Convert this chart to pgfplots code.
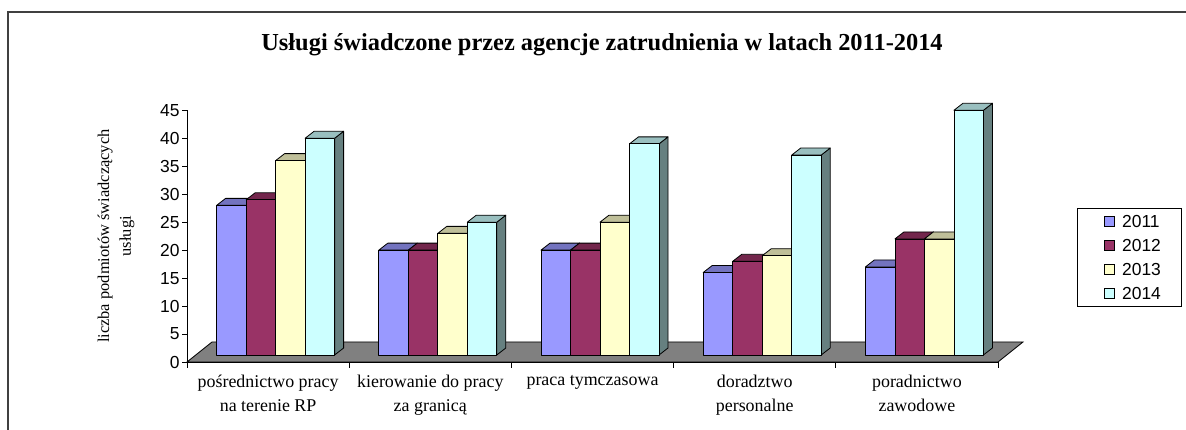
\documentclass[border=0pt]{standalone}
\usepackage{pgfplots}
\usepackage{pgfplotstable}
\pgfplotsset{compat=1.18}
\usepackage{fontspec}
\setmainfont{Liberation Serif}
\newfontfamily\arialw{Liberation Sans}
\definecolor{c2011}{HTML}{9999FF}
\definecolor{c2012}{HTML}{993366}
\definecolor{c2013}{HTML}{FFFFCC}
\definecolor{c2014}{HTML}{CCFFFF}
\definecolor{floorc}{HTML}{808080}

\pgfplotstableread{
x a b c d
0 28 29 36 40
1 20 20 23 25
2 20 20 25 39
3 16 18 19 37
4 17 22 22 45
}\data

\newcommand\tdbar[2]{%
 \pgfkeys{/pgf/fpu=true,/pgf/fpu/output format=fixed}%
 \pgfmathsetmacro\hb{-(\yv*5.5933-7)}%
 \pgfkeys{/pgf/fpu=false}%
 \pgfmathsetmacro\xl{#1-14.75}%
 \pgfmathsetmacro\xr{#1+14.75}%
 \pgfmathsetmacro\xrb{\xr+9}%
 \pgfmathsetmacro\xlb{\xl+9}%
 \pgfmathsetmacro\hbb{\hb+7}%
 \filldraw[fill=#2!50!black, draw=black, line width=0.8bp, line join=round] (\xr bp,0bp) -- (\xrb bp,7bp) -- (\xrb bp,\hbb bp) -- (\xr bp,\hb bp) -- cycle;
 \filldraw[fill=#2!75!black, draw=black, line width=0.8bp, line join=round] (\xl bp,0bp) -- (\xlb bp,7bp) -- (\xrb bp,7bp) -- (\xr bp,0bp) -- cycle;
 \filldraw[fill=#2, draw=black, line width=0.8bp, line join=round] (\xl bp,\hb bp) rectangle (\xr bp,0bp);
}
\pgfdeclareplotmark{bA}{\tdbar{-36.75}{c2011}}
\pgfdeclareplotmark{bB}{\tdbar{-7.25}{c2012}}
\pgfdeclareplotmark{bC}{\tdbar{22.25}{c2013}}
\pgfdeclareplotmark{bD}{\tdbar{51.75}{c2014}}

\begin{document}
\begin{tikzpicture}
\path[use as bounding box] (0,0) rectangle (1186bp,430bp);
\draw[line width=1.5bp, black!75] (8bp,-10bp) rectangle (1200bp,418bp);
\node[font=\bfseries\fontsize{24.5}{28}\selectfont] at (602bp,385bp) {Usługi świadczone przez agencje zatrudnienia w latach 2011-2014};
\begin{axis}[
  at={(187bp,68bp)}, anchor=south west,
  scale only axis, width=811bp, height=251.7bp,
  xmin=-0.5, xmax=4.5, ymin=0, ymax=45,
  clip=false,
  axis x line*=bottom, axis y line*=left,
  axis line style={-, black, line width=0.8bp},
  tick align=outside,
  major tick length=5bp, minor tick length=6bp,
  ytick={0,5,...,45},
  xtick={0,1,2,3,4},
  minor xtick={-0.5,0.5,1.5,2.5,3.5,4.5},
  major x tick style={draw=none},
  minor x tick style={black, line width=0.8bp},
  major y tick style={black, line width=0.8bp},
  xticklabels={{pośrednictwo pracy\\na terenie RP},{kierowanie do pracy\\za granicą},{praca tymczasowa},{doradztwo\\personalne},{poradnictwo\\zawodowe}},
  xticklabel style={align=center, font=\fontsize{18}{24}\selectfont, anchor=north, yshift=-5bp},
  yticklabel style={font=\arialw\fontsize{17.5}{18}\selectfont, xshift=1bp},
  /pgf/number format/assume math mode=true,
  ylabel={liczba podmiotów świadczących\\usługi},
  ylabel style={align=center, font=\fontsize{16.5}{22}\selectfont, at={(axis description cs:-0.0875,0.5)}, anchor=center},
  legend cell align=left,
  legend style={at={(1.09741,0.61184)}, anchor=north west, draw=black, line width=0.8bp,
    font=\arialw\fontsize{17.5}{18}\selectfont, inner xsep=2bp, inner ysep=4.5bp,
    row sep=7.6bp, column sep=6bp,
    nodes={inner sep=2bp, text height=12.5bp, text depth=0bp}},
]
\addplot[fill=floorc, draw=black, line width=0.8bp, forget plot] coordinates {(-0.5,0) (4.5,0) (4.6541,3.576) (-0.3459,3.576)} -- cycle;
\addplot[scatter, only marks, mark=bA, visualization depends on={\thisrow{a} \as \yv},
  legend image code/.code={\path (-24bp,0bp); \draw[fill=c2011, line width=0.6bp] (0bp,-5bp) rectangle (10bp,5bp);}]
  table[x=x, y=a] {\data};
\addlegendentry{2011\hspace*{16bp}}
\addplot[scatter, only marks, mark=bB, visualization depends on={\thisrow{b} \as \yv},
  legend image code/.code={\path (-24bp,0bp); \draw[fill=c2012, line width=0.6bp] (0bp,-5bp) rectangle (10bp,5bp);}]
  table[x=x, y=b] {\data};
\addlegendentry{2012\hspace*{16bp}}
\addplot[scatter, only marks, mark=bC, visualization depends on={\thisrow{c} \as \yv},
  legend image code/.code={\path (-24bp,0bp); \draw[fill=c2013, line width=0.6bp] (0bp,-5bp) rectangle (10bp,5bp);}]
  table[x=x, y=c] {\data};
\addlegendentry{2013\hspace*{16bp}}
\addplot[scatter, only marks, mark=bD, visualization depends on={\thisrow{d} \as \yv},
  legend image code/.code={\path (-24bp,0bp); \draw[fill=c2014, line width=0.6bp] (0bp,-5bp) rectangle (10bp,5bp);}]
  table[x=x, y=d] {\data};
\addlegendentry{2014\hspace*{16bp}}
\end{axis}
\end{tikzpicture}
\end{document}
